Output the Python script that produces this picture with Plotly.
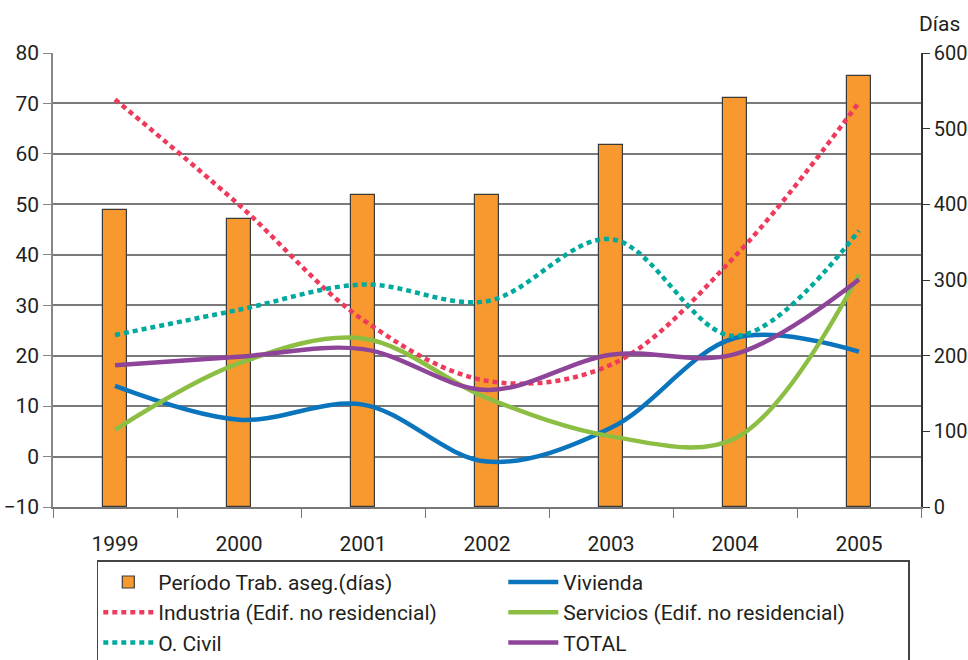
import plotly.graph_objects as go

years = ["1999", "2000", "2001", "2002", "2003", "2004", "2005"]

# Período medio de trabajo asegurado (días) - eje derecho
periodo_dias = [393, 381, 413, 413, 478, 541, 570]

# Series de variación - eje izquierdo
industria = [70.8, 49.9, 27.1, 15.0, 18.2, 39.7, 70.2]
obra_civil = [24.1, 29.1, 34.1, 30.8, 43.1, 23.9, 44.8]
vivienda = [14.0, 7.3, 10.3, -1.0, 5.7, 23.5, 20.8]
servicios = [5.3, 18.5, 23.4, 11.6, 4.0, 3.6, 36.1]
total = [18.1, 19.8, 21.3, 13.2, 20.2, 20.3, 35.1]

left_ticks = list(range(-10, 81, 10))
right_ticks = list(range(0, 601, 100))

TEXT = "#231F20"
FONT = "Roboto"

fig = go.Figure()

fig.add_trace(go.Bar(
    x=years, y=periodo_dias, name="Período Trab. aseg.(días)",
    width=0.2, marker=dict(color="#F7992F", line=dict(color="#3a3a3a", width=1.2)),
    yaxis="y",
))

lines = [
    ("Vivienda", vivienda, "#0A74BC", "solid"),
    ("Industria (Edif. no residencial)", industria, "#EE3A5C", "5px,4px"),
    ("Servicios (Edif. no residencial)", servicios, "#8CBE44", "solid"),
    ("O. Civil", obra_civil, "#00A99D", "5px,4px"),
    ("TOTAL", total, "#8E4498", "solid"),
]
for name, vals, color, dash in lines:
    fig.add_trace(go.Scatter(
        x=years, y=vals, name=name, mode="lines", yaxis="y2",
        line=dict(color=color, width=4.5, dash=dash, shape="spline", smoothing=1.0),
    ))

fig.update_layout(
    template="none",
    width=968, height=660,
    margin=dict(l=53, r=47, t=53, b=153, autoexpand=False),
    paper_bgcolor="white", plot_bgcolor="white",
    font=dict(family=FONT, size=20, color=TEXT),
    bargap=0,
    xaxis=dict(
        type="category", range=[-0.5, 6.5], automargin=False,
        showline=True, linecolor="#777777", linewidth=1.5,
        ticks="outside", tickson="boundaries", ticklen=9, tickcolor="#777777", tickwidth=1.2,
        tickfont=dict(size=21, color=TEXT), showgrid=False,
        ticklabelstandoff=17,
    ),
    yaxis=dict(
        side="right", range=[0, 600], tickvals=right_ticks, automargin=False,
        showgrid=False, zeroline=False,
        showline=True, linecolor="#333333", linewidth=1.5,
        ticks="outside", ticklen=7, tickcolor="#333333", tickwidth=1.2,
        tickfont=dict(size=20, color=TEXT),
    ),
    yaxis2=dict(
        overlaying="y", side="left", range=[-10, 80], tickvals=left_ticks, automargin=False,
        showgrid=True, gridcolor="#7a7a7a", gridwidth=1.5, zeroline=False,
        showline=True, linecolor="#888888", linewidth=1.5,
        ticks="outside", ticklen=8, tickcolor="#888888", tickwidth=1.2,
        tickfont=dict(size=21, color=TEXT),
    ),
    legend=dict(
        orientation="h", xref="container", yref="container",
        x=0.1, y=0.151, xanchor="left", yanchor="top",
        bordercolor="#444444", borderwidth=1.5, bgcolor="white",
        font=dict(size=21, color=TEXT),
        entrywidth=340, entrywidthmode="pixels", itemwidth=50,
        traceorder="normal",
    ),
    showlegend=True,
    annotations=[dict(
        text="Días", x=1.021, y=1.063, xref="paper", yref="paper",
        xanchor="center", yanchor="middle", showarrow=False,
        font=dict(size=21, color=TEXT),
    )],
)

fig.write_html("out.html")
